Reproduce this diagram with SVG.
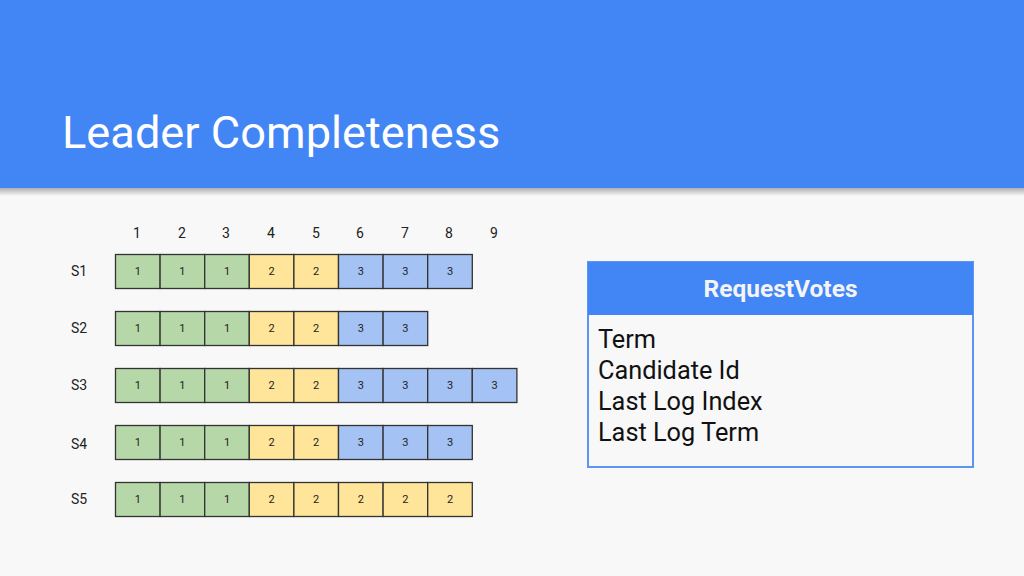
<svg xmlns="http://www.w3.org/2000/svg" width="1024" height="576" viewBox="0 0 1024 576">
<defs>
<linearGradient id="sh" x1="0" y1="0" x2="0" y2="1">
<stop offset="0" stop-color="#000" stop-opacity="0.3"/>
<stop offset="1" stop-color="#000" stop-opacity="0"/>
</linearGradient>
<style>
text{font-family:Roboto,"Liberation Sans",sans-serif}
.c{stroke:#333;stroke-width:1.3}
.g{fill:#B6D7A8}.y{fill:#FFE599}.b{fill:#A4C2F4}
.ct{font-size:11px;fill:#222;text-anchor:middle}
.lab{font-size:14px;fill:#222;text-anchor:middle}
.body{font-size:25.3px;fill:#111}
</style>
</defs>
<rect width="1024" height="576" fill="#F8F8F8"/>
<rect x="0" y="188" width="1024" height="8" fill="url(#sh)"/>
<rect width="1024" height="188" fill="#4285F4"/>
<text x="62" y="148" font-size="45.2" fill="#fff">Leader Completeness</text>

<g id="indices" class="lab">
<text x="137" y="238" class="lab">1</text>
<text x="182" y="238" class="lab">2</text>
<text x="226" y="238" class="lab">3</text>
<text x="271" y="238" class="lab">4</text>
<text x="316" y="238" class="lab">5</text>
<text x="360" y="238" class="lab">6</text>
<text x="405" y="238" class="lab">7</text>
<text x="449" y="238" class="lab">8</text>
<text x="494" y="238" class="lab">9</text>
</g>

<g id="S1">
<text x="79" y="276" class="lab">S1</text>
<rect class="c g" x="115.5" y="254.5" width="44.6" height="34"/>
<rect class="c g" x="160.1" y="254.5" width="44.6" height="34"/>
<rect class="c g" x="204.7" y="254.5" width="44.6" height="34"/>
<rect class="c y" x="249.3" y="254.5" width="44.6" height="34"/>
<rect class="c y" x="293.9" y="254.5" width="44.6" height="34"/>
<rect class="c b" x="338.5" y="254.5" width="44.6" height="34"/>
<rect class="c b" x="383.1" y="254.5" width="44.6" height="34"/>
<rect class="c b" x="427.7" y="254.5" width="44.6" height="34"/>
<text class="ct" x="137.8" y="275">1</text><text class="ct" x="182.4" y="275">1</text><text class="ct" x="227" y="275">1</text><text class="ct" x="271.6" y="275">2</text><text class="ct" x="316.2" y="275">2</text><text class="ct" x="360.8" y="275">3</text><text class="ct" x="405.4" y="275">3</text><text class="ct" x="450" y="275">3</text>
</g>

<g id="S2">
<text x="79" y="333" class="lab">S2</text>
<rect class="c g" x="115.5" y="311.5" width="44.6" height="34"/>
<rect class="c g" x="160.1" y="311.5" width="44.6" height="34"/>
<rect class="c g" x="204.7" y="311.5" width="44.6" height="34"/>
<rect class="c y" x="249.3" y="311.5" width="44.6" height="34"/>
<rect class="c y" x="293.9" y="311.5" width="44.6" height="34"/>
<rect class="c b" x="338.5" y="311.5" width="44.6" height="34"/>
<rect class="c b" x="383.1" y="311.5" width="44.6" height="34"/>
<text class="ct" x="137.8" y="332">1</text><text class="ct" x="182.4" y="332">1</text><text class="ct" x="227" y="332">1</text><text class="ct" x="271.6" y="332">2</text><text class="ct" x="316.2" y="332">2</text><text class="ct" x="360.8" y="332">3</text><text class="ct" x="405.4" y="332">3</text>
</g>

<g id="S3">
<text x="79" y="390" class="lab">S3</text>
<rect class="c g" x="115.5" y="368.5" width="44.6" height="34"/>
<rect class="c g" x="160.1" y="368.5" width="44.6" height="34"/>
<rect class="c g" x="204.7" y="368.5" width="44.6" height="34"/>
<rect class="c y" x="249.3" y="368.5" width="44.6" height="34"/>
<rect class="c y" x="293.9" y="368.5" width="44.6" height="34"/>
<rect class="c b" x="338.5" y="368.5" width="44.6" height="34"/>
<rect class="c b" x="383.1" y="368.5" width="44.6" height="34"/>
<rect class="c b" x="427.7" y="368.5" width="44.6" height="34"/>
<rect class="c b" x="472.3" y="368.5" width="44.6" height="34"/>
<text class="ct" x="137.8" y="389">1</text><text class="ct" x="182.4" y="389">1</text><text class="ct" x="227" y="389">1</text><text class="ct" x="271.6" y="389">2</text><text class="ct" x="316.2" y="389">2</text><text class="ct" x="360.8" y="389">3</text><text class="ct" x="405.4" y="389">3</text><text class="ct" x="450" y="389">3</text><text class="ct" x="494.6" y="389">3</text>
</g>

<g id="S4">
<text x="79" y="449" class="lab">S4</text>
<rect class="c g" x="115.5" y="425.5" width="44.6" height="34"/>
<rect class="c g" x="160.1" y="425.5" width="44.6" height="34"/>
<rect class="c g" x="204.7" y="425.5" width="44.6" height="34"/>
<rect class="c y" x="249.3" y="425.5" width="44.6" height="34"/>
<rect class="c y" x="293.9" y="425.5" width="44.6" height="34"/>
<rect class="c b" x="338.5" y="425.5" width="44.6" height="34"/>
<rect class="c b" x="383.1" y="425.5" width="44.6" height="34"/>
<rect class="c b" x="427.7" y="425.5" width="44.6" height="34"/>
<text class="ct" x="137.8" y="446">1</text><text class="ct" x="182.4" y="446">1</text><text class="ct" x="227" y="446">1</text><text class="ct" x="271.6" y="446">2</text><text class="ct" x="316.2" y="446">2</text><text class="ct" x="360.8" y="446">3</text><text class="ct" x="405.4" y="446">3</text><text class="ct" x="450" y="446">3</text>
</g>

<g id="S5">
<text x="79" y="504" class="lab">S5</text>
<rect class="c g" x="115.5" y="482.5" width="44.6" height="34"/>
<rect class="c g" x="160.1" y="482.5" width="44.6" height="34"/>
<rect class="c g" x="204.7" y="482.5" width="44.6" height="34"/>
<rect class="c y" x="249.3" y="482.5" width="44.6" height="34"/>
<rect class="c y" x="293.9" y="482.5" width="44.6" height="34"/>
<rect class="c y" x="338.5" y="482.5" width="44.6" height="34"/>
<rect class="c y" x="383.1" y="482.5" width="44.6" height="34"/>
<rect class="c y" x="427.7" y="482.5" width="44.6" height="34"/>
<text class="ct" x="137.8" y="503">1</text><text class="ct" x="182.4" y="503">1</text><text class="ct" x="227" y="503">1</text><text class="ct" x="271.6" y="503">2</text><text class="ct" x="316.2" y="503">2</text><text class="ct" x="360.8" y="503">2</text><text class="ct" x="405.4" y="503">2</text><text class="ct" x="450" y="503">2</text>
</g>

<g id="requestvotes">
<rect x="588" y="262" width="385" height="205" fill="#F8F8F8" stroke="#5B95F5" stroke-width="2"/>
<rect x="588" y="262" width="385" height="53" fill="#4285F4"/>
<text x="780.5" y="297" font-size="24.5" font-weight="bold" fill="#F4F4F4" text-anchor="middle">RequestVotes</text>
<text class="body" x="598" y="348">Term</text>
<text class="body" x="598" y="379">Candidate Id</text>
<text class="body" x="598" y="410">Last Log Index</text>
<text class="body" x="598" y="441">Last Log Term</text>
</g>
<g id="connectors"/>
</svg>
